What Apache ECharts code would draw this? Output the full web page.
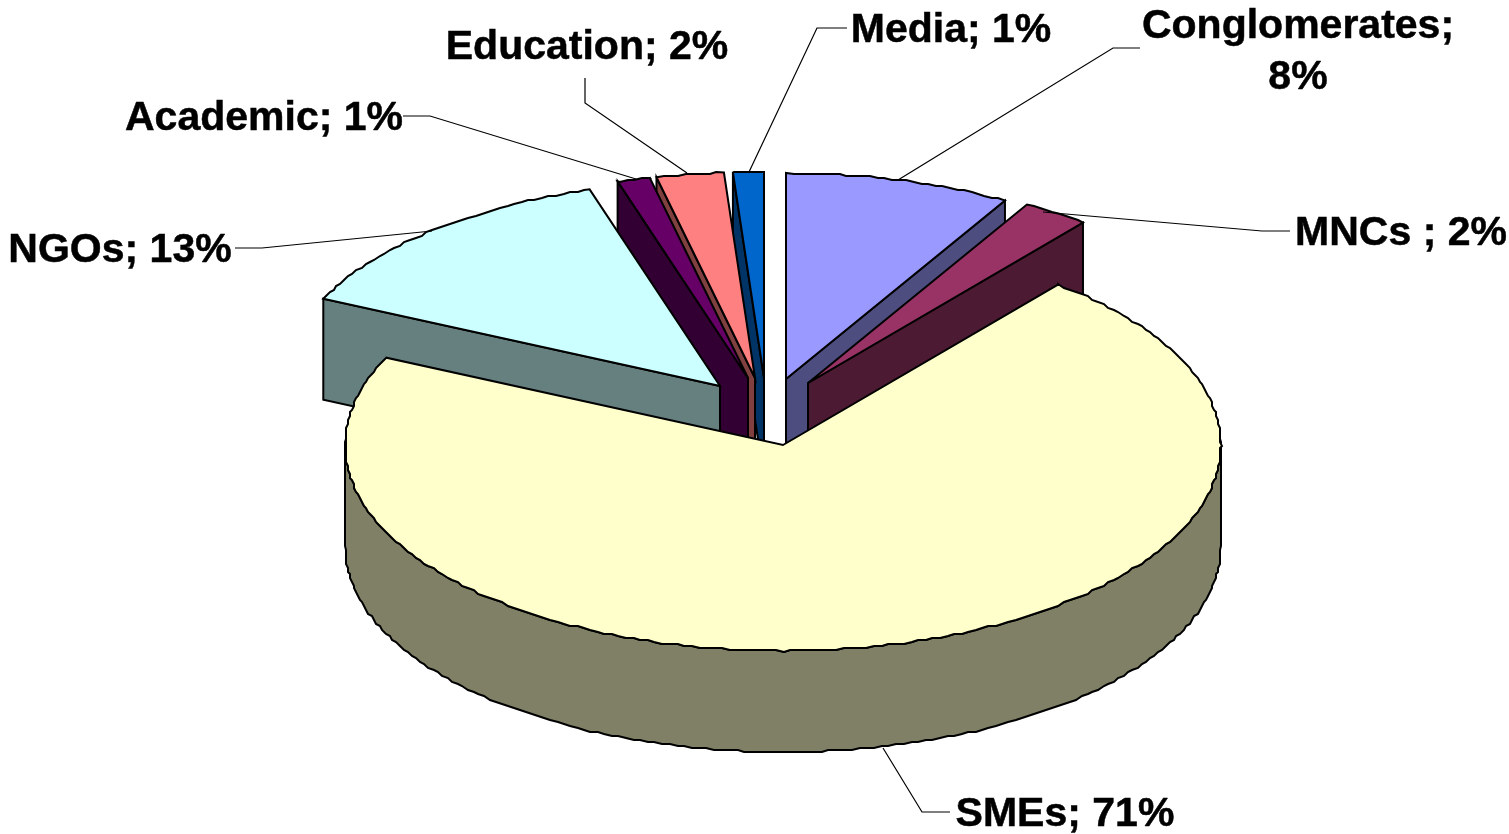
<!DOCTYPE html>
<html>
<head>
<meta charset="utf-8">
<style>html,body{margin:0;padding:0;background:#fff}#chart{width:1509px;height:834px}</style>
<script src="https://cdn.jsdelivr.net/npm/echarts@6/dist/echarts.min.js"></script>
</head>
<body>
<div id="chart"></div>
<script>
// ---- data (clockwise from 12 o'clock) ----
const categories = ['Conglomerates', 'MNCs ', 'SMEs', 'NGOs', 'Academic', 'Education', 'Media'];
const shares = [8.33, 2.47, 71.15, 13.22, 1.2, 2.48, 1.13];

// ---- layout & style, kept apart from the data ----
const paintOrder = [0, 1, 6, 5, 4, 3, 2];
const tips = [[786,379],[808,383],[783,445],[720,386],[748,378],[755,378],[764,378]];
const topColors = ['#9999ff','#993366','#ffffcc','#ccffff','#660066','#ff8080','#0066cc'];
const sideColors = ['#4d4d80','#4d1a33','#808066','#668080','#330033','#804040','#003366'];
const RX = 438, RY = 206, DEPTH = 101;
const labelAnchors = [[1298,52],[1401,234],[1065,815],[120,251],[264,119],[587,48],[951,31]];
const leaders = [
  [[898,180],[1113,48],[1140,48]],
  [[1043,212],[1262,231],[1290,231]],
  [[883,748],[922,812],[950,812]],
  [[432,231],[262,248],[235,248]],
  [[636,179],[430,116],[403,116]],
  [[687,173],[585,103],[585,78]],
  [[749,172],[817,28],[847,28]]
];

const total = shares.reduce((a, b) => a + b, 0);
const starts = [];
shares.reduce((acc, v, i) => { starts[i] = acc; return acc + v / total * 360; }, 0);

function rimPoint(c, deg, dy) {
  const r = deg * Math.PI / 180;
  return [c[0] + RX * Math.sin(r), c[1] - RY * Math.cos(r) + (dy || 0)];
}
// Rim samples sit on whole degrees, snapped to a small grid: this gives the reference's slightly rough curve.
function rim(c, from, to, dy) {
  const pts = [rimPoint(c, from, dy)];
  for (let d = Math.ceil(from + 0.01); d < to; d += 1) {
    const p = rimPoint(c, d, dy);
    pts.push([Math.round(p[0] / 2) * 2, Math.round(p[1] / 2) * 2]);
  }
  pts.push(rimPoint(c, to, dy));
  return pts;
}
function edge(fill) {
  return { fill: fill, stroke: '#000', lineWidth: 2, lineJoin: 'miter' };
}

function renderSlice(params, api) {
  const pos = params.dataIndex;
  const i = paintOrder[pos];
  const value = api.value(0);
  const c = tips[i];
  const a0 = starts[i], a1 = a0 + value / total * 360, mid = (a0 + a1) / 2;
  const children = [];
  let z = 10 * (pos + 1);

  // outer rim, only the part that faces the viewer
  const rf = Math.max(a0, 90), rt = Math.min(a1, 270);
  if (rt > rf) {
    children.push({ type: 'polygon', z2: z++,
      shape: { points: rim(c, rf, rt, 0).concat(rim(c, rf, rt, DEPTH).reverse()) },
      style: edge(sideColors[i]) });
  }
  // the cut face that faces the viewer
  if (i !== 2) {
    const a = mid < 180 ? a1 : a0;
    const p = rimPoint(c, a);
    children.push({ type: 'polygon', z2: z++,
      shape: { points: [c, p, [p[0], p[1] + DEPTH], [c[0], c[1] + DEPTH]] },
      style: edge(sideColors[i]) });
  }
  // top face
  children.push({ type: 'polygon', z2: z++,
    shape: { points: [c].concat(rim(c, a0, a1, 0)) },
    style: edge(topColors[i]) });

  // leader and label
  children.push({ type: 'polyline', z2: 200,
    shape: { points: leaders[i] },
    style: { fill: null, stroke: '#000', lineWidth: 1.2 } });
  const sep = i === 0 ? ';\n' : '; ';
  children.push({ type: 'text', z2: 201,
    style: {
      text: categories[i] + sep + Math.round(value) + '%',
      x: labelAnchors[i][0], y: labelAnchors[i][1],
      align: 'center', verticalAlign: 'middle',
      font: 'bold 41px "Liberation Sans", Arial, sans-serif',
      lineHeight: 51, fill: '#000', stroke: '#000', lineWidth: 0.5
    } });
  return { type: 'group', children };
}

const chart = echarts.init(document.getElementById('chart'));
chart.setOption({
  animation: false,
  backgroundColor: '#fff',
  series: [{
    type: 'custom',
    coordinateSystem: 'none',
    silent: true,
    renderItem: renderSlice,
    encode: { value: 0 },
    data: paintOrder.map(i => ({ name: categories[i], value: [shares[i]] }))
  }]
});
</script>
</body>
</html>
